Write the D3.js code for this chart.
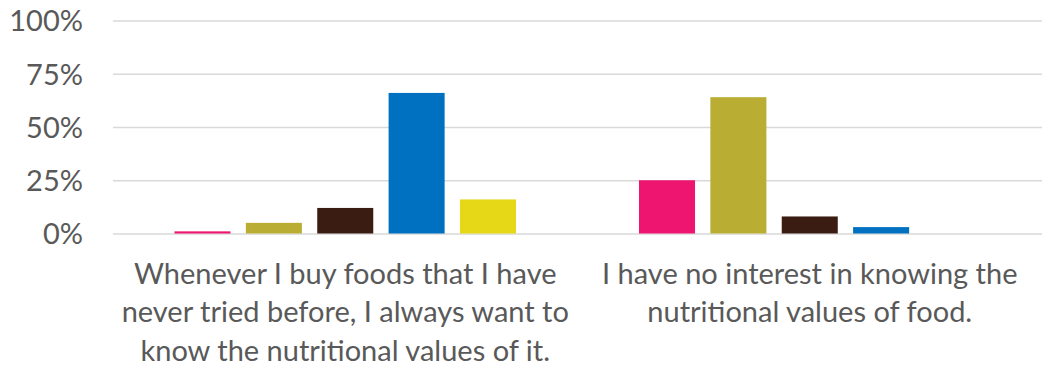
<!DOCTYPE html>
<html>
<head>
<meta charset="utf-8">
<script src="https://cdn.jsdelivr.net/npm/d3@7"></script>
<style>
  body { margin: 0; background: #fff; }
  svg { display: block; font-family: Lato, "Open Sans", sans-serif; }
</style>
</head>
<body>
<div id="chart"></div>
<script>
const categories = [
  ["Whenever I buy foods that I have", "never tried before, I always want to", "know the nutritional values of it."],
  ["I have no interest in knowing the", "nutritional values of food."]
];
const seriesNames = ["Series 1", "Series 2", "Series 3", "Series 4", "Series 5"];
const seriesColors = ["#ED1570", "#B9AE33", "#3A1C12", "#0070C0", "#E6D817"];
// percent per series, one value per category
const s1 = [1, 25];
const s2 = [5, 64];
const s3 = [12, 8];
const s4 = [66, 3];
const s5 = [16, 0];
const yTicks = [0, 0.25, 0.5, 0.75, 1];

const seriesValues = [s1, s2, s3, s4, s5];

const W = 1043, H = 368;
const margin = { top: 20.5, left: 113, right: 1, bottom: 134.5 };
const width = W - margin.left - margin.right;
const height = H - margin.top - margin.bottom;

const svg = d3.select("#chart").append("svg")
  .attr("width", W)
  .attr("height", H);

const g = svg.append("g")
  .attr("transform", `translate(${margin.left},${margin.top})`);

const catKeys = categories.map((c, i) => i);

const x0 = d3.scaleBand().domain(catKeys).range([0, width]);
const groupPad = 61.5;
const x1 = d3.scaleBand()
  .domain(seriesNames)
  .range([groupPad, x0.bandwidth() - groupPad])
  .paddingInner(0.215);

const y = d3.scaleLinear().domain([0, 1]).range([height, 0]);

// gridlines + tick labels
const yAxis = d3.axisLeft(y)
  .tickValues(yTicks)
  .tickFormat(d3.format(".0%"))
  .tickSize(-width)
  .tickPadding(30);

const ya = g.append("g").call(yAxis);
ya.select(".domain").remove();
ya.selectAll(".tick line").attr("stroke", "#d9d9d9").attr("stroke-width", 1.5);
ya.selectAll(".tick text")
  .attr("fill", "#595959")
  .style("font-size", "29px")
  .style("font-family", "Lato, sans-serif")
  .attr("dy", "0.36em");

// bars
const flat = [];
seriesNames.forEach((s, si) => {
  catKeys.forEach(ci => {
    flat.push({ cat: ci, series: s, color: seriesColors[si], value: seriesValues[si][ci] / 100 });
  });
});

g.append("g").selectAll("rect")
  .data(flat)
  .join("rect")
  .attr("x", d => x0(d.cat) + x1(d.series))
  .attr("width", x1.bandwidth())
  .attr("y", d => y(d.value))
  .attr("height", d => height - y(d.value))
  .attr("fill", d => d.color);

// category labels
const labels = g.append("g").selectAll("text")
  .data(catKeys)
  .join("text")
  .attr("text-anchor", "middle")
  .attr("fill", "#595959")
  .style("font-size", "29px")
  .attr("transform", d => `translate(${x0(d) + x0.bandwidth() / 2},${height + 50})`);

labels.selectAll("tspan")
  .data(d => categories[d])
  .join("tspan")
  .attr("x", 0)
  .attr("y", (d, i) => i * 38.5)
  .text(d => d);
</script>
</body>
</html>
